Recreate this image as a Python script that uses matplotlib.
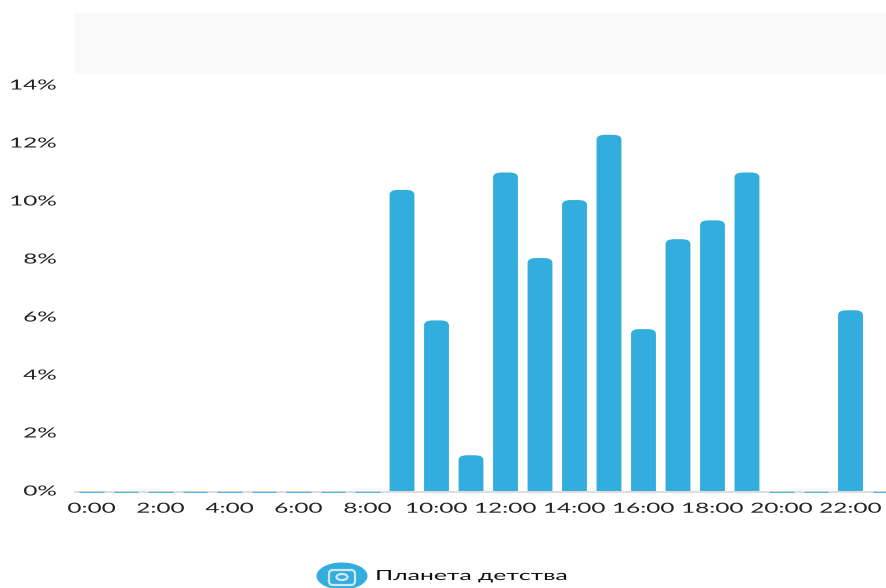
import matplotlib
matplotlib.use("Agg")
import matplotlib.pyplot as plt
from matplotlib.patches import FancyBboxPatch, Ellipse, Rectangle
from matplotlib.patheffects import AbstractPathEffect
from matplotlib.transforms import Affine2D

hours = list(range(24))
values = [0, 0, 0, 0, 0, 0, 0, 0, 0, 10.4, 5.9, 1.25, 11.0, 8.05, 10.05, 12.3,
          5.6, 8.7, 9.35, 11.0, 0, 0, 6.25, 0]
y_ticks = [0, 2, 4, 6, 8, 10, 12, 14]
x_ticks = list(range(0, 24, 2))
x_labels = ["%d:00" % h for h in x_ticks]
legend_label = "Планета детства"

BLUE = "#33addd"
ICON = "#cfeaf6"
TEXT = "#222222"
W, H = 886, 588


class StretchX(AbstractPathEffect):
    # the reference text is squashed wide, so widen the glyphs around an anchor
    def __init__(self, sx, anchor=0.5):
        self.sx = sx
        self.anchor = anchor

    def draw_path(self, renderer, gc, tpath, affine, rgbFace=None):
        ext = tpath.get_extents(affine)
        x0 = ext.x0 + self.anchor * ext.width
        a = affine + Affine2D().translate(-x0, 0).scale(self.sx, 1).translate(x0, 0)
        renderer.draw_path(gc, tpath, a, rgbFace)


plt.rcParams['font.family'] = ['Lato', 'DejaVu Sans']
fig = plt.figure(figsize=(W / 100, H / 100), dpi=100)
# pixels: hour 0 at x=91.5, 34.5 px per hour; 0% at y=491.5, 29 px per percent
ax = fig.add_axes([74 / W, (H - 493) / H, (W - 74) / W, (493 - 75) / H])
ax.set_xlim(-(91.5 - 74) / 34.5, (886 - 91.5) / 34.5)
ax.set_ylim(-1.5 / 29, (491.5 - 75) / 29)

bar_w = 0.72
for h, v in zip(hours, values):
    if v > 0:
        ax.add_patch(FancyBboxPatch((h - bar_w / 2, -0.3), bar_w, v + 0.3,
                                    boxstyle="round,pad=0,rounding_size=0.25",
                                    mutation_aspect=0.65, fc=BLUE, ec="none"))
    else:
        ax.plot([h - bar_w / 2, h + bar_w / 2], [0, 0], color=BLUE, lw=1,
                alpha=0.8, solid_capstyle="butt", zorder=3)

for s in ax.spines.values():
    s.set_visible(False)
ax.axhline(0, color="#dddddd", lw=1.5, zorder=1)
ax.set_xticks(x_ticks)
ax.set_xticklabels(x_labels, fontsize=10, color=TEXT)
ax.set_yticks(y_ticks)
ax.set_yticklabels(["%d%%" % t for t in y_ticks], fontsize=10, color=TEXT)
ax.tick_params(length=0)
ax.tick_params(axis="x", pad=7)
ax.tick_params(axis="y", pad=12.7)
for t in ax.get_xticklabels():
    t.set_path_effects([StretchX(1.75)])
for t in ax.get_yticklabels():
    t.set_path_effects([StretchX(1.75, anchor=1.0)])
    t.set_transform(t.get_transform() + Affine2D().translate(0, 1))

# pixel coordinates with y pointing down, for the band and the legend
px = Affine2D().scale(1, -1).translate(0, H)

# grey band above the plot
fig.add_artist(Rectangle((74, 13), W - 74, 61, transform=px, fc="#f9f9f9", ec="none"))

# legend
fig.add_artist(Ellipse((342, 576), 51, 27, transform=px, fc=BLUE, ec="none"))
fig.add_artist(FancyBboxPatch((329, 570), 26, 15, transform=px,
                              boxstyle="round,pad=0,rounding_size=4", fc="none", ec=ICON, lw=1.6))
fig.add_artist(Ellipse((342, 577), 11, 6, transform=px, fc="none", ec=ICON, lw=1.6))
leg = fig.text(376 / W, (H - 576) / H, legend_label, fontsize=10, color="#111111",
               va="center", ha="left")
leg.set_path_effects([StretchX(1.78, anchor=0.0)])

fig.savefig("out.png", dpi=100)
